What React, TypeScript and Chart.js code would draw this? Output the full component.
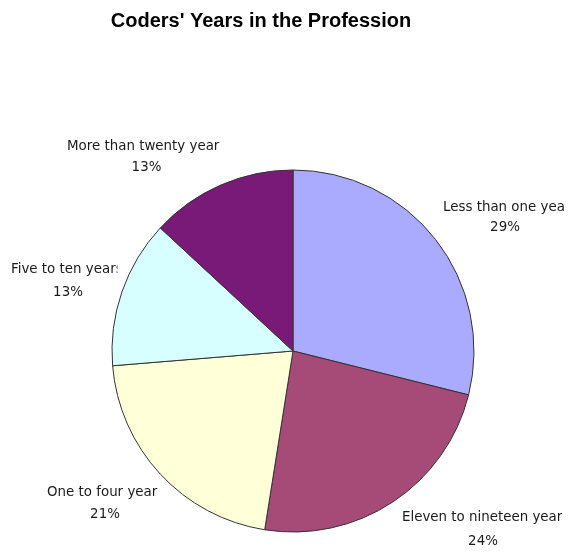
import React, { useEffect, useRef } from "react";
import { Chart, registerables } from "chart.js";

Chart.register(...registerables);

const TITLE = "Coders' Years in the Profession";
const categories = [
  "Less than one year",
  "Eleven to nineteen years",
  "One to four years",
  "Five to ten years",
  "More than twenty years",
];
const shares = [28.9, 23.6, 21.2, 13.2, 13.1];
const percentLabels = ["29%", "24%", "21%", "13%", "13%"];
const colors = ["#AAAAFF", "#A64A78", "#FFFFD8", "#D8FFFF", "#7A1A78"];

// label boxes: left edge of text, right clip edge, percent centre x, line-1 y, line-2 y
const labelBoxes = [
  { left: 443, right: 566, cx: 505, y1: 208, y2: 228 },
  { left: 402, right: 562.5, cx: 483, y1: 518, y2: 542 },
  { left: 47, right: 158, cx: 105, y1: 493, y2: 515 },
  { left: 11, right: 117.5, cx: 68, y1: 270, y2: 293 },
  { left: 67, right: 220, cx: 146.5, y1: 147, y2: 168 },
];

const labelPlugin = {
  id: "labelPlugin",
  afterDraw(chart: any) {
    const ctx = chart.ctx;
    ctx.save();
    ctx.fillStyle = "#000";
    ctx.font = "bold 20px 'Liberation Sans', Arial, sans-serif";
    ctx.textAlign = "center";
    ctx.textBaseline = "alphabetic";
    ctx.fillText(TITLE, 261, 27);
    ctx.font = "13.4px 'DejaVu Sans', sans-serif";
    ctx.fillStyle = "#1a1a1a";
    ctx.textBaseline = "middle";
    categories.forEach((cat, i) => {
      const b = labelBoxes[i];
      ctx.save();
      ctx.beginPath();
      ctx.rect(b.left - 2, b.y1 - 12, b.right - b.left + 2, 26);
      ctx.clip();
      ctx.textAlign = "left";
      ctx.fillText(cat, b.left, b.y1);
      ctx.restore();
      ctx.textAlign = "center";
      ctx.fillText(percentLabels[i], b.cx, b.y2);
    });
    ctx.restore();
  },
};

export default function App() {
  const ref = useRef<HTMLCanvasElement>(null);
  useEffect(() => {
    document.body.style.margin = "0";
    const chart = new Chart(ref.current!, {
      type: "pie",
      data: {
        labels: categories,
        datasets: [
          {
            data: shares,
            backgroundColor: colors,
            borderColor: "#333333",
            borderWidth: 1,
          },
        ],
      },
      options: {
        animation: false,
        responsive: false,
        events: [],
        layout: { padding: { left: 111.5, top: 169.5, right: 93.5, bottom: 19.5 } },
        plugins: {
          legend: { display: false },
          title: { display: false },
          tooltip: { enabled: false },
        },
      },
      plugins: [labelPlugin],
    });
    return () => chart.destroy();
  }, []);
  return (
    <div style={{ width: 568, height: 552, background: "#fff" }}>
      <canvas ref={ref} width={568} height={552} style={{ display: "block" }} />
    </div>
  );
}
